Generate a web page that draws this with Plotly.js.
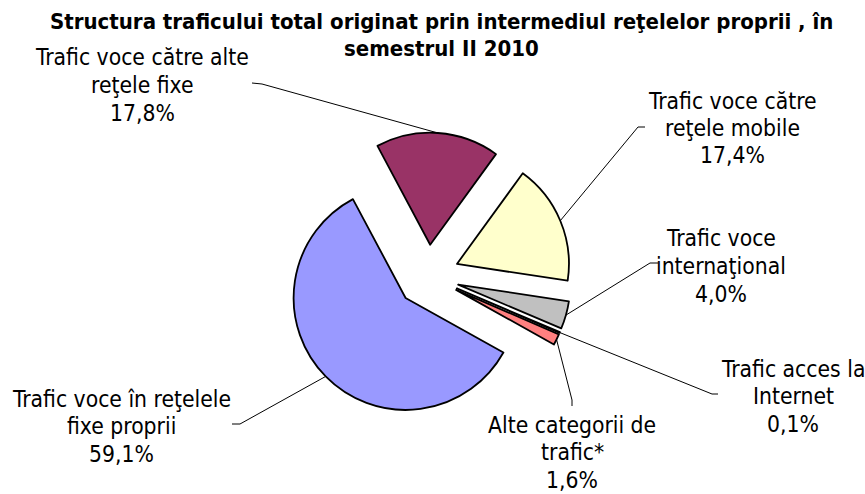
<!DOCTYPE html>
<html>
<head>
<meta charset="utf-8">
<script src="https://cdn.plot.ly/plotly-3.0.1.min.js"></script>
<style>html,body{margin:0;padding:0;background:#fff;}#chart{width:865px;height:494px;}</style>
</head>
<body>
<div id="chart"></div>
<script>
// ---- data ----
const categories = [
  "Trafic voce către<br>reţele mobile",
  "Trafic voce<br>internaţional",
  "Trafic acces la<br>Internet",
  "Alte categorii de<br>trafic*",
  "Trafic voce în reţelele<br>fixe proprii",
  "Trafic voce către alte<br>reţele fixe"
];
const values = [17.4, 4.0, 0.1, 1.6, 59.1, 17.8];
const valueLabels = ["17,4%", "4,0%", "0,1%", "1,6%", "59,1%", "17,8%"];
const colors = ["#FFFFCC", "#C0C0C0", "#FFFFFF", "#FF8080", "#9999FF", "#993366"];
const titleLines = ["Structura traficului total originat prin intermediul reţelelor proprii , în", "semestrul II 2010"];

// ---- layout constants (pixels) ----
const W = 865, H = 494;
const CX = 428, CY = 276, R = 112, PULL = 0.28, ROT = 36;
const FONT = "'DejaVu Sans Condensed', 'DejaVu Sans', sans-serif";
const LABEL_SIZE = 22.7, LINE_GAP = 27.5;
// label centers (middle line) and leader elbows (layout)
const labelPos = [[732, 128], [721, 266], [793, 396], [572, 452], [121.5, 426], [142, 85]];
const elbows = [
  [[638, 127], [645, 127]],
  [[650, 263], [658, 263]],
  [[712, 394], [718, 394]],
  [[572, 400], [572, 406]],
  [[240, 424], [232, 424]],
  [[262, 84], [252, 83]]
];

const px2x = p => p / W;
const py2y = p => 1 - p / H;
const half = R * (1 + PULL);

const total = values.reduce((a, b) => a + b, 0);
let cum = 0;
const anchors = values.map(v => {
  const mid = (ROT + (cum + v / 2) / total * 360) * Math.PI / 180;
  cum += v;
  const s = Math.sin(mid), c = -Math.cos(mid);
  return [CX + (R * PULL + R) * s, CY + (R * PULL + R) * c];
});

const annotations = [];
categories.forEach((t, i) => {
  const lines = t.split('<br>').concat([valueLabels[i]]);
  const y0 = labelPos[i][1] - LINE_GAP * (lines.length - 1) / 2;
  lines.forEach((ln, k) => {
    annotations.push({
      xref: 'paper', yref: 'paper',
      x: px2x(labelPos[i][0]), y: py2y(y0 + k * LINE_GAP),
      xanchor: 'center', yanchor: 'middle',
      text: ln, showarrow: false, borderpad: 0,
      font: {family: FONT, size: LABEL_SIZE, color: '#000'}
    });
  });
});
const titleY = [21, 48];
titleLines.forEach((ln, k) => {
  annotations.push({
    xref: 'paper', yref: 'paper',
    x: px2x(441), y: py2y(titleY[k]),
    xanchor: 'center', yanchor: 'middle',
    text: '<b>' + ln + '</b>', showarrow: false, borderpad: 0,
    font: {family: FONT, size: 22, color: '#000'}
  });
});

const shapes = anchors.map((a, i) => {
  const e = elbows[i];
  return {
    type: 'path', xref: 'paper', yref: 'paper',
    path: `M ${px2x(a[0])} ${py2y(a[1])} L ${px2x(e[0][0])} ${py2y(e[0][1])} L ${px2x(e[1][0])} ${py2y(e[1][1])}`,
    line: {color: '#000', width: 1}
  };
});

const trace = {
  type: 'pie',
  values: values,
  labels: categories,
  sort: false,
  direction: 'clockwise',
  rotation: ROT,
  pull: values.map(() => PULL),
  marker: {colors: colors, line: {color: '#000', width: 1.8}},
  textinfo: 'none',
  hoverinfo: 'none',
  showlegend: false,
  domain: {x: [px2x(CX - half), px2x(CX + half)], y: [py2y(CY + half), py2y(CY - half)]}
};

const layout = {
  width: W, height: H,
  margin: {l: 0, r: 0, t: 0, b: 0},
  paper_bgcolor: '#fff',
  annotations: annotations,
  shapes: shapes
};

Plotly.newPlot('chart', [trace], layout, {displayModeBar: false, staticPlot: true});
</script>
</body>
</html>
